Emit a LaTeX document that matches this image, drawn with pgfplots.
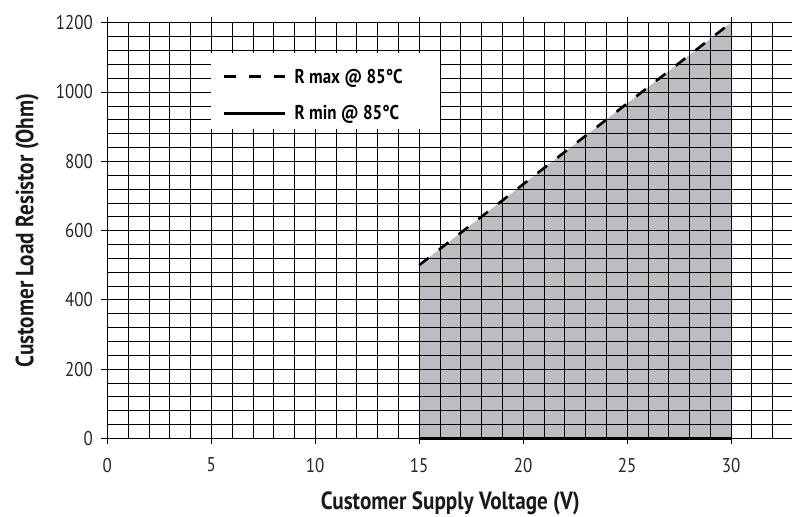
\documentclass[border=0pt]{standalone}
\usepackage{fontspec}
\setmainfont{PT Sans}[FakeStretch=0.85]
\usepackage{pgfplots}
\pgfplotsset{compat=1.18}
\definecolor{fillgray}{RGB}{188,189,192}
\begin{document}
\begin{tikzpicture}
\begin{axis}[
  x=20.79bp, y=0.3463bp,
  xmin=0, xmax=33, ymin=0, ymax=1200,
  xtick={0,5,...,30}, ytick={0,200,...,1200},
  minor xtick={1,...,33}, minor ytick={40,80,...,1200},
  grid=both,
  major grid style={black, line width=0.8bp},
  minor grid style={black, line width=0.6bp},
  axis line style={black, line width=0.8bp},
  tick align=outside, tick pos=both,
  major tick length=6bp, minor tick length=0pt,
  tick style={black, line width=0.8bp},
  set layers, clip=false,
  /pgf/number format/assume math mode=true,
  /pgf/number format/1000 sep={},
  ticklabel style={font=\fontsize{20}{20}\selectfont, text=black!85},
  xticklabel style={yshift=-10bp},
  yticklabel style={xshift=-5bp},
  xlabel={Customer Supply Voltage (V)},
  ylabel={Customer Load Resistor (Ohm)},
  label style={font=\bfseries\fontsize{25}{25}\selectfont, text=black!90},
  xlabel style={at={(axis cs:16.5,-207)}, anchor=base},
  ylabel style={at={(axis cs:-3.56,600)}, anchor=base},
  legend style={at={(axis cs:5.55,1073)}, anchor=north west, draw=none, fill=none,
    font=\bfseries\fontsize{20}{20}\selectfont, inner sep=0pt, row sep=17bp,
    nodes={inner sep=2bp}},
  legend cell align=left,
  legend image code/.code={\draw[#1] (0bp,0bp) -- (61bp,0bp); \path (67bp,0bp);},
]
\coordinate (O) at (axis cs:0,0);
\addplot[fill=fillgray, draw=none, on layer=axis background, forget plot]
  coordinates {(15,0) (15,500) (30,1200) (30,0)} -- cycle;
\fill[white] (axis cs:5,1112) rectangle (axis cs:16,892);
\addplot[black, line width=2.6bp, dash pattern=on 12bp off 13bp] coordinates {(15,500) (30,1200)};
\addlegendentry{R max @ 85\textdegree C}
\addplot[black, line width=2.8bp] coordinates {(15,0) (30,0)};
\addlegendentry{R min @ 85\textdegree C}
\end{axis}
\pgfresetboundingbox
\path ([shift={(-107.3bp,-78.7bp)}]O) rectangle ([shift={(684.7bp,438.3bp)}]O);
\end{tikzpicture}
\end{document}
